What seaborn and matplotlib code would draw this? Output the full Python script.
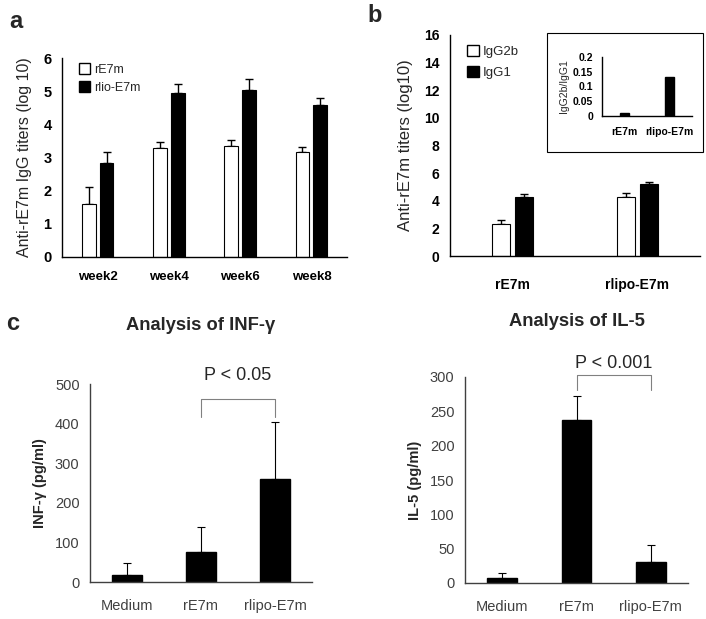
import numpy as np
import pandas as pd
import matplotlib
matplotlib.use("Agg")
import matplotlib.pyplot as plt
from matplotlib.patches import Patch, Rectangle
import seaborn as sns

# ---- data ----
weeks = ["week2", "week4", "week6", "week8"]
re7m_titer = [1.60, 3.28, 3.35, 3.17]
re7m_titer_err = [0.50, 0.18, 0.17, 0.15]
rlio_titer = [2.83, 4.95, 5.05, 4.57]
rlio_titer_err = [0.35, 0.28, 0.32, 0.21]

antigens = ["rE7m", "rlipo-E7m"]
igg2b = [2.30, 4.30]
igg2b_err = [0.28, 0.25]
igg1 = [4.25, 5.20]
igg1_err = [0.22, 0.18]
ratio = [0.010, 0.133]

groups = ["Medium", "rE7m", "rlipo-E7m"]
infg = [18, 75, 260]
infg_err = [30, 65, 145]
il5 = [7, 238, 31]
il5_err = [7, 34, 24]

sns.set_theme(style="white")
plt.rcParams["font.family"] = ["Liberation Sans", "DejaVu Sans"]

W, H = 706, 619
fig = plt.figure(figsize=(W / 100, H / 100), dpi=100)


def px_axes(left, top, right, bottom):
    return fig.add_axes([left / W, 1 - bottom / H, (right - left) / W, (bottom - top) / H])


def add_errs(ax, errs_by_container, lw=1.0, cap=3):
    for cont, errs in zip(ax.containers, errs_by_container):
        for bar, e in zip(cont, errs):
            xc = bar.get_x() + bar.get_width() / 2
            h = bar.get_height()
            ax.errorbar(xc, h, yerr=[[0], [e]], fmt="none", ecolor="black",
                        elinewidth=lw, capsize=cap, capthick=lw, zorder=1)


def style_axes(ax, n, color="black", tick_color="black"):
    sns.despine(ax=ax)
    for s in ["left", "bottom"]:
        ax.spines[s].set_color(color)
        ax.spines[s].set_linewidth(1.0)
    ax.set_xlim(-0.5, n - 0.5)
    ax.set_xticks(np.arange(-0.5, n, 1.0), minor=True)
    ax.tick_params(axis="x", which="major", length=0, pad=8, colors=tick_color)
    ax.tick_params(axis="x", which="minor", length=4, color=color, direction="out")
    ax.tick_params(axis="y", length=4, color=color, direction="out", colors=tick_color)
    ax.set_xlabel("")


# ---- panel a ----
df_a = pd.DataFrame({
    "week": weeks * 2,
    "titer": re7m_titer + rlio_titer,
    "group": ["rE7m"] * 4 + ["rlio-E7m"] * 4,
})
ax_a = px_axes(62, 58, 347, 257)
sns.barplot(data=df_a, x="week", y="titer", hue="group", palette=["white", "black"],
            edgecolor="black", linewidth=0.8, width=0.5, gap=0.22, errorbar=None,
            legend=False, ax=ax_a, zorder=2)
add_errs(ax_a, [re7m_titer_err, rlio_titer_err])
style_axes(ax_a, 4)
ax_a.set_ylim(0, 6)
ax_a.set_yticks(range(0, 7))
ax_a.set_ylabel("Anti-rE7m IgG titers (log 10)", fontsize=11.5, labelpad=8)
ax_a.tick_params(axis="x", which="major", pad=10)
for t in ax_a.get_xticklabels():
    t.set_fontweight("bold")
    t.set_fontsize(9.5)
for t in ax_a.get_yticklabels():
    t.set_fontweight("bold")
    t.set_fontsize(10.5)
h_a = [Patch(facecolor="white", edgecolor="black", label="rE7m"),
       Patch(facecolor="black", edgecolor="black", label="rlio-E7m")]
ax_a.legend(handles=h_a, loc="upper left", bbox_to_anchor=(0.02, 1.03), frameon=False,
            fontsize=9, handlelength=0.9, handleheight=0.9, handletextpad=0.3,
            labelspacing=0.45)

# ---- panel b ----
df_b = pd.DataFrame({
    "antigen": antigens * 2,
    "titer": igg2b + igg1,
    "isotype": ["IgG2b"] * 2 + ["IgG1"] * 2,
})
ax_b = px_axes(450, 35, 700, 256)
sns.barplot(data=df_b, x="antigen", y="titer", hue="isotype", palette=["white", "black"],
            edgecolor="black", linewidth=0.8, width=0.36, gap=0.2, errorbar=None,
            legend=False, ax=ax_b, zorder=2)
add_errs(ax_b, [igg2b_err, igg1_err])
style_axes(ax_b, 2)
ax_b.set_ylim(0, 16)
ax_b.set_yticks(range(0, 17, 2))
ax_b.set_ylabel("Anti-rE7m titers (log10)", fontsize=12, labelpad=8)
ax_b.tick_params(axis="x", which="major", pad=16)
for t in ax_b.get_xticklabels():
    t.set_fontweight("bold")
    t.set_fontsize(10)
for t in ax_b.get_yticklabels():
    t.set_fontweight("bold")
    t.set_fontsize(10)
h_b = [Patch(facecolor="white", edgecolor="black", label="IgG2b"),
       Patch(facecolor="black", edgecolor="black", label="IgG1")]
ax_b.legend(handles=h_b, loc="upper left", bbox_to_anchor=(0.02, 1.01), frameon=False,
            fontsize=9.5, handlelength=0.9, handleheight=0.9, handletextpad=0.3,
            labelspacing=0.6)

# inset box and inset axes
fig.add_artist(Rectangle((547 / W, 1 - 152 / H), 156 / W, 119 / H, transform=fig.transFigure,
                         facecolor="white", edgecolor="black", linewidth=0.8, zorder=3))
ax_in = px_axes(602, 57, 692, 116)
ax_in.set_zorder(5)
sns.barplot(x=antigens, y=ratio, color="black", width=0.22, errorbar=None, ax=ax_in,
            edgecolor="black")
style_axes(ax_in, 2)
ax_in.set_ylim(0, 0.2)
ax_in.set_yticks([0, 0.05, 0.1, 0.15, 0.2])
ax_in.set_yticklabels(["0", "0.05", "0.1", "0.15", "0.2"])
ax_in.tick_params(axis="both", labelsize=7.5)
ax_in.tick_params(axis="x", which="major", pad=8)
ax_in.tick_params(axis="y", length=3)
ax_in.tick_params(axis="x", which="minor", length=3)
for t in ax_in.get_xticklabels() + ax_in.get_yticklabels():
    t.set_fontweight("bold")
ax_in.set_ylabel("IgG2b/IgG1", fontsize=7.5, labelpad=3)
ax_in.patch.set_alpha(0)

# ---- panel c (INF-gamma) ----
gray = "#404040"
ax_c1 = px_axes(90, 384, 312, 582)
sns.barplot(x=groups, y=infg, color="black", width=0.4, errorbar=None, ax=ax_c1,
            edgecolor="black", zorder=2)
add_errs(ax_c1, [infg_err], lw=0.8, cap=3)
style_axes(ax_c1, 3, color=gray, tick_color=gray)
ax_c1.set_ylim(0, 500)
ax_c1.set_yticks(range(0, 501, 100))
ax_c1.tick_params(labelsize=10.5)
ax_c1.tick_params(axis="x", which="major", pad=12)
ax_c1.set_ylabel("INF-γ (pg/ml)", fontsize=10.5, fontweight="bold", labelpad=6)
ax_c1.plot([1, 1, 2, 2], [417, 462, 462, 417], color="#808080", lw=0.8, clip_on=False)
ax_c1.text(1.5, 500, "P < 0.05", ha="center", va="bottom", fontsize=13, clip_on=False)
ax_c1.set_title("Analysis of INF-γ", fontsize=13.2, fontweight="bold", pad=39)

# ---- panel c (IL-5) ----
ax_c2 = px_axes(465, 377, 688, 583)
sns.barplot(x=groups, y=il5, color="black", width=0.4, errorbar=None, ax=ax_c2,
            edgecolor="black", zorder=2)
add_errs(ax_c2, [il5_err], lw=0.8, cap=3)
style_axes(ax_c2, 3, color=gray, tick_color=gray)
ax_c2.set_ylim(0, 300)
ax_c2.set_yticks(range(0, 301, 50))
ax_c2.tick_params(labelsize=10.5)
ax_c2.tick_params(axis="x", which="major", pad=12)
ax_c2.set_ylabel("IL-5 (pg/ml)", fontsize=10.5, fontweight="bold", labelpad=6)
ax_c2.plot([1, 1, 2, 2], [281, 303, 303, 281], color="#808080", lw=0.8, clip_on=False)
ax_c2.text(1.5, 307, "P < 0.001", ha="center", va="bottom", fontsize=13, clip_on=False)
ax_c2.set_title("Analysis of IL-5", fontsize=13.2, fontweight="bold", pad=37)

# panel letters
fig.text(9 / W, 1 - 21 / H, "a", fontsize=17, fontweight="bold", va="center")
fig.text(367 / W, 1 - 16 / H, "b", fontsize=17, fontweight="bold", va="center")
fig.text(6 / W, 1 - 324 / H, "c", fontsize=17, fontweight="bold", va="center")

fig.savefig("out.png", dpi=100, facecolor="white")
